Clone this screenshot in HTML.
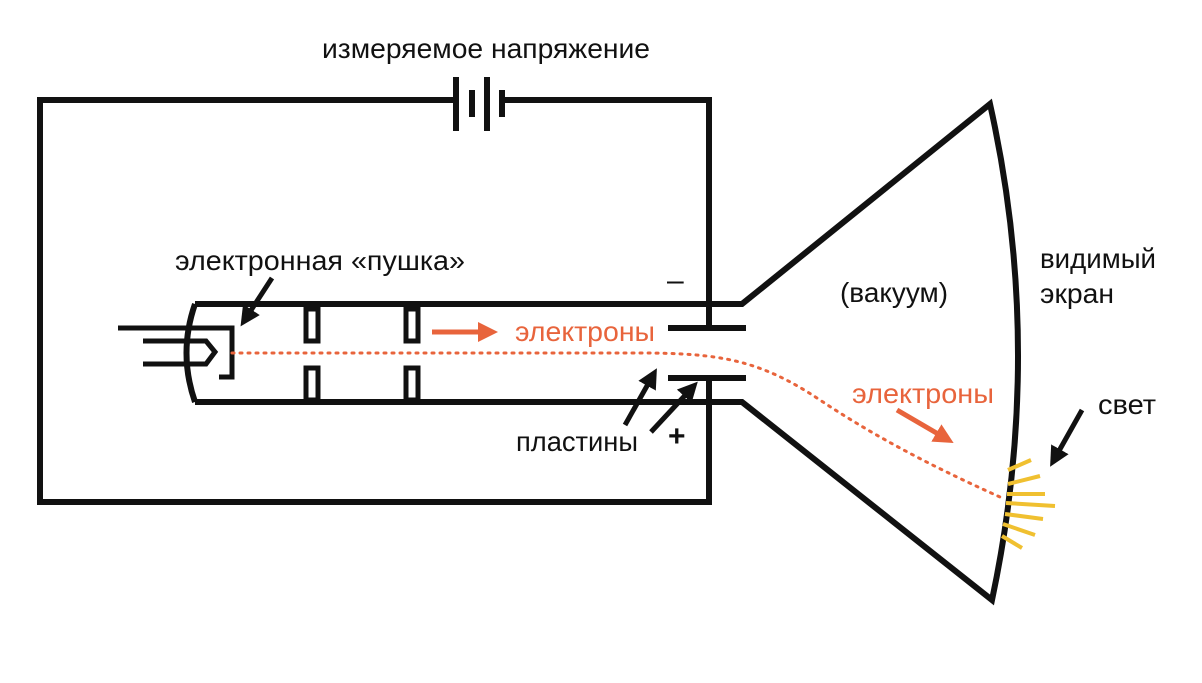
<!DOCTYPE html>
<html><head><meta charset="utf-8"><style>
html,body{margin:0;padding:0;background:#fff}
svg{display:block}
text{font-family:"Liberation Sans",sans-serif;font-size:28px;fill:#111}
</style></head><body>
<svg width="1202" height="683" viewBox="0 0 1202 683">
<defs>
<marker id="ab" markerWidth="4" markerHeight="4" refX="2" refY="2" orient="auto" markerUnits="strokeWidth"><path d="M0,0 L4,2 L0,4z" fill="#111"/></marker>
<marker id="ao" markerWidth="4" markerHeight="4" refX="2" refY="2" orient="auto" markerUnits="strokeWidth"><path d="M0,0 L4,2 L0,4z" fill="#e8643c"/></marker>
</defs>
<g stroke="#111" stroke-width="6" fill="none">
<path d="M456,100 H40 V502 H709 V378"/>
<path d="M502,100 H709 V328"/>
<line x1="456" y1="77" x2="456" y2="131"/>
<line x1="472" y1="90" x2="472" y2="117"/>
<line x1="487" y1="77" x2="487" y2="131"/>
<line x1="502" y1="90" x2="502" y2="117"/>
<path d="M195,304 H742 L990,104 Q1045,350 992,600 L742,402 H195"/>
<path d="M195,304 Q178,353 195,402"/>
<line x1="668" y1="328" x2="746" y2="328"/>
<line x1="668" y1="378" x2="746" y2="378"/>
<rect x="306" y="309" width="12" height="32" stroke-width="5"/>
<rect x="306" y="368" width="12" height="32" stroke-width="5"/>
<rect x="406" y="309" width="12" height="32" stroke-width="5"/>
<rect x="406" y="368" width="12" height="32" stroke-width="5"/>
<path d="M118,328 H232 V377 H219" stroke-width="5"/>
<path d="M143,341 H206 L215,352 L206,364 H143" stroke-width="5"/>
</g>
<path d="M232,353 H640 C720,353 760,360 820,400 C880,440 940,470 1000,497" stroke="#e8643c" stroke-width="3" stroke-dasharray="2,6" stroke-linecap="round" fill="none"/>
<g stroke="#f0c030" stroke-width="4">
<line x1="1008" y1="470" x2="1031" y2="460"/>
<line x1="1008" y1="484" x2="1040" y2="476"/>
<line x1="1007" y1="494" x2="1045" y2="494"/>
<line x1="1006" y1="503" x2="1055" y2="506"/>
<line x1="1005" y1="514" x2="1043" y2="519"/>
<line x1="1003" y1="524" x2="1035" y2="535"/>
<line x1="1002" y1="536" x2="1022" y2="548"/>
</g>
<g stroke="#e8643c" stroke-width="5">
<line x1="432" y1="332" x2="488" y2="332" marker-end="url(#ao)"/>
<line x1="897" y1="410" x2="945" y2="438" marker-end="url(#ao)"/>
</g>
<g stroke="#111" stroke-width="5">
<line x1="272" y1="278" x2="246" y2="318" marker-end="url(#ab)"/>
<line x1="625" y1="425" x2="652" y2="377" marker-end="url(#ab)"/>
<line x1="651" y1="432" x2="691" y2="389" marker-end="url(#ab)"/>
<line x1="1082" y1="410" x2="1055" y2="458" marker-end="url(#ab)"/>
</g>
<g lengthAdjust="spacingAndGlyphs">
<text x="322" y="58" textLength="328" lengthAdjust="spacingAndGlyphs">измеряемое напряжение</text>
<text x="175" y="270" textLength="290" lengthAdjust="spacingAndGlyphs">электронная «пушка»</text>
<text x="515" y="341" textLength="140" lengthAdjust="spacingAndGlyphs" style="fill:#e8643c">электроны</text>
<text x="852" y="403" textLength="142" lengthAdjust="spacingAndGlyphs" style="fill:#e8643c">электроны</text>
<text x="516" y="451" textLength="122" lengthAdjust="spacingAndGlyphs">пластины</text>
<text x="668" y="446" style="font-size:30px;font-weight:bold">+</text>
<text x="667" y="290" style="font-size:30px">–</text>
<text x="840" y="302" textLength="108" lengthAdjust="spacingAndGlyphs">(вакуум)</text>
<text x="1040" y="268" textLength="116" lengthAdjust="spacingAndGlyphs">видимый</text>
<text x="1040" y="303" textLength="74" lengthAdjust="spacingAndGlyphs">экран</text>
<text x="1098" y="414" textLength="58" lengthAdjust="spacingAndGlyphs">свет</text>
</g>
</svg>
</body></html>
